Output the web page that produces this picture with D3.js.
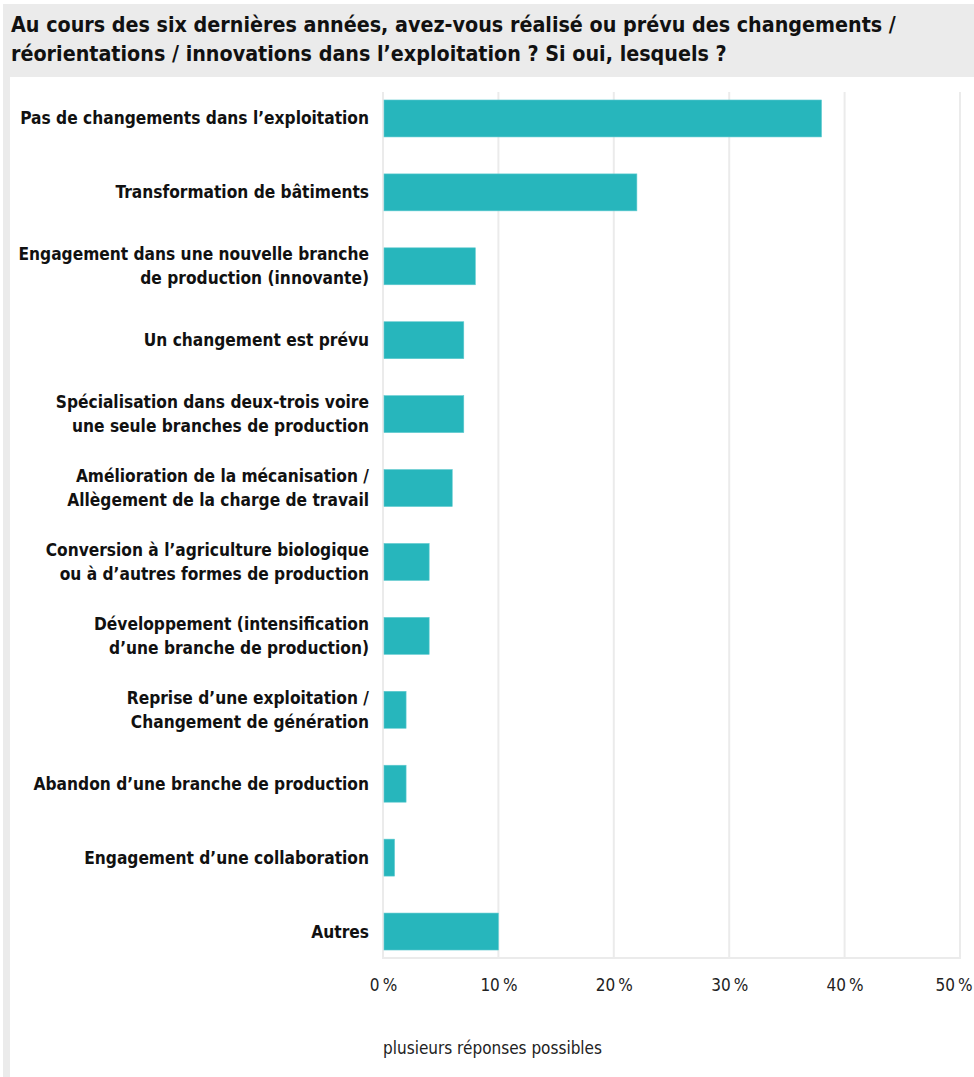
<!DOCTYPE html>
<html>
<head>
<meta charset="utf-8">
<script src="https://cdn.jsdelivr.net/npm/d3@7"></script>
<style>
  html, body { margin: 0; padding: 0; background: #fff; }
  svg { display: block; }
</style>
</head>
<body>
<div id="chart"></div>
<script>
// Survey answers (share of respondents, several answers possible)
const categories = [
  ["Pas de changements dans l\u2019exploitation"],
  ["Transformation de b\u00e2timents"],
  ["Engagement dans une nouvelle branche", "de production (innovante)"],
  ["Un changement est pr\u00e9vu"],
  ["Sp\u00e9cialisation dans deux-trois voire", "une seule branches de production"],
  ["Am\u00e9lioration de la m\u00e9canisation /", "All\u00e8gement de la charge de travail"],
  ["Conversion \u00e0 l\u2019agriculture biologique", "ou \u00e0 d\u2019autres formes de production"],
  ["D\u00e9veloppement (intensification", "d\u2019une branche de production)"],
  ["Reprise d\u2019une exploitation /", "Changement de g\u00e9n\u00e9ration"],
  ["Abandon d\u2019une branche de production"],
  ["Engagement d\u2019une collaboration"],
  ["Autres"]
];
const values = [38, 22, 8, 7, 7, 6, 4, 4, 2, 2, 1, 10];
const tickValues = [0, 10, 20, 30, 40, 50];
const titleLines = [
  "Au cours des six derni\u00e8res ann\u00e9es, avez-vous r\u00e9alis\u00e9 ou pr\u00e9vu des changements /",
  "r\u00e9orientations / innovations dans l\u2019exploitation ? Si oui, lesquels ?"
];
const note = "plusieurs r\u00e9ponses possibles";

const W = 974, H = 1077;
const FONT = "'DejaVu Sans Condensed', 'DejaVu Sans', sans-serif";
const svg = d3.select("#chart").append("svg")
  .attr("width", W).attr("height", H)
  .style("font-family", FONT);

// Frame: grey title band and left strip
svg.append("rect").attr("x", 3).attr("y", 4).attr("width", W - 3).attr("height", H - 4).attr("fill", "#ebebeb");
svg.append("rect").attr("x", 10).attr("y", 77).attr("width", W - 10).attr("height", H - 77).attr("fill", "#fff");

svg.append("g").selectAll("text").data(titleLines).join("text")
  .attr("x", 11).attr("y", (d, i) => 32 + i * 29)
  .attr("font-size", 21.3).attr("font-weight", "bold").attr("fill", "#111")
  .text(d => d);

const x0 = 383, x1 = 960, yTop = 92, yBot = 958;
const x = d3.scaleLinear().domain([0, 50]).range([x0, x1]);
const y = d3.scaleBand().domain(d3.range(categories.length))
  .range([yTop, yBot]).paddingInner(0.5).paddingOuter(0.108);

// Grid
svg.append("g").selectAll("line").data(tickValues).join("line")
  .attr("x1", d => x(d)).attr("x2", d => x(d))
  .attr("y1", yTop).attr("y2", yBot)
  .attr("stroke", "#ebebeb").attr("stroke-width", 2);
svg.append("line").attr("x1", x0 - 1).attr("x2", x1 + 1).attr("y1", yBot).attr("y2", yBot)
  .attr("stroke", "#ebebeb").attr("stroke-width", 2);

// Bars
svg.append("g").selectAll("rect").data(values).join("rect")
  .attr("x", x(0) + 1).attr("y", (d, i) => y(i))
  .attr("width", d => x(d) - x(0) - 1).attr("height", y.bandwidth())
  .attr("fill", "#27b6bc").attr("stroke", "#5fcacf").attr("stroke-width", 0.6);

// Category labels
const lab = svg.append("g").selectAll("text").data(categories).join("text")
  .attr("text-anchor", "end").attr("font-size", 17.2).attr("font-weight", "bold").attr("fill", "#111");
lab.each(function(lines, i) {
  const cy = y(i) + y.bandwidth() / 2;
  const t = d3.select(this);
  const n = lines.length;
  lines.forEach((l, k) => {
    t.append("tspan").attr("x", 369)
      .attr("y", cy + 6 + (k - (n - 1) / 2) * 24)
      .text(l);
  });
});

// Axis tick labels
const axis = d3.axisBottom(x).tickValues(tickValues).tickSize(0).tickPadding(0).tickFormat(d => d + "\u2009%");
const ax = svg.append("g").attr("transform", `translate(0,${yBot + 33})`).call(axis);
ax.select(".domain").remove();
ax.selectAll("text").attr("font-size", 17).attr("fill", "#222").attr("font-family", FONT).attr("dy", 0);
// keep the last label inside the page
ax.selectAll("text").each(function(d) {
  const b = this.getBBox();
  const right = x(d) + b.x + b.width;
  if (right > W - 2) d3.select(this).attr("x", (W - 2) - right);
});

svg.append("text").attr("x", 383).attr("y", 1054)
  .attr("font-size", 17).attr("fill", "#222").text(note);
</script>
</body>
</html>
